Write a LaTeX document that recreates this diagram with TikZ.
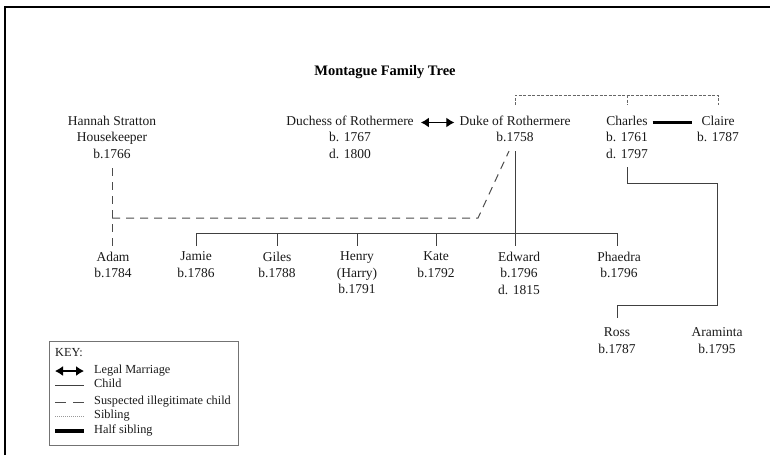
\documentclass[tikz,border=0pt]{standalone}
\usepackage{fontspec}
\setmainfont{Liberation Serif}
\usetikzlibrary{arrows.meta,calc}
\newcommand\mainfs{\fontsize{13.5}{16.5}\selectfont}
\newcommand\keyfs{\fontsize{12.3}{15}\selectfont}
\newcommand\titlefs{\fontsize{14.5}{17}\selectfont\bfseries}
\begin{document}
\begin{tikzpicture}[x=1pt,y=-1pt,
 person/.style={align=center,inner sep=0pt,anchor=north,font=\mainfs,text=black!90},
 child/.style={draw=black!75,line width=0.9pt},
 illeg/.style={draw=black!70,line width=1pt,dash pattern=on 8pt off 6pt},
 sib/.style={draw=black!60,line width=0.7pt,dash pattern=on 3pt off 1.5pt},
 halfsib/.style={draw=black,line width=3.5pt},
 marriage/.style={draw=black,line width=1.3pt,{Latex[length=8pt,width=10pt]}-{Latex[length=8pt,width=10pt]}},
 keytext/.style={anchor=west,inner sep=0pt,font=\keyfs,text=black!90,text height=0.7em,text depth=0.2em}]
\useasboundingbox (0,0) rectangle (770,455);
\draw[line width=1.6pt] (5,455) -- (5,7) -- (770,7);

\node[font=\titlefs,text=black] (title) at (385,72) {Montague Family Tree};

% parents
\node[person] (hannah) at (112,115.5) {Hannah Stratton\\Housekeeper\\b.1766};
\node[person] (duchess) at (350,115.5) {Duchess of Rothermere\\b. 1767\\d. 1800};
\node[person] (duke) at (515,115.5) {Duke of Rothermere\\b.1758};
\node[person] (charles) at (627,115.5) {Charles\\b. 1761\\d. 1797};
\node[person] (claire) at (718,115.5) {Claire\\b. 1787};

% children
\node[person] (adam) at (113,251.5) {Adam\\b.1784};
\node[person] (jamie) at (196,251.5) {Jamie\\b.1786};
\node[person] (giles) at (277,251.5) {Giles\\b.1788};
\node[person] (henry) at (357,251.5) {Henry\\(Harry)\\b.1791};
\node[person] (kate) at (436,251.5) {Kate\\b.1792};
\node[person] (edward) at (519,251.5) {Edward\\b.1796\\d. 1815};
\node[person] (phaedra) at (619,251.5) {Phaedra\\b.1796};
\node[person] (ross) at (617,327.5) {Ross\\b.1787};
\node[person] (araminta) at (717,327.5) {Araminta\\b.1795};

% row coordinates
\coordinate (sibrow) at (0,95);
\coordinate (sibtick) at (0,105);
\coordinate (kidbar) at (0,233);
\coordinate (kidtop) at (0,246);
\coordinate (illegrow) at (0,218);
\coordinate (illegbend) at (478,218);
\coordinate (chbar) at (0,183);
\coordinate (chright) at (0,305);
\coordinate (rosstop) at (0,318);

% marriage and half sibling
\draw[marriage] ([shift={(7pt,-7pt)}]duchess.north east) -- ([shift={(-5pt,-7pt)}]duke.north west);
\draw[halfsib] ([shift={(4.5pt,-7pt)}]charles.north east) -- ([shift={(-4.5pt,-7pt)}]claire.north west);

% siblings
\draw[sib] (duke.north |- sibtick) -- (duke.north |- sibrow) -| (claire.north |- sibtick);
\draw[sib] (charles.north |- sibrow) -- (charles.north |- sibtick);

% children of the duke
\draw[child] ([yshift=-9pt]duke.south) -- (duke.south |- kidtop);
\draw[child] (jamie.north |- kidtop) -- (jamie.north |- kidbar) -- ([xshift=-2pt]phaedra.north |- kidbar) -- ([xshift=-2pt]phaedra.north |- kidtop);
\foreach \n in {giles,henry,kate} \draw[child] (\n.north |- kidbar) -- (\n.north |- kidtop);

% children of Charles
\draw[child] ([yshift=-9pt]charles.south) -- (charles.south |- chbar) -- (araminta.north |- chbar) -- (araminta.north |- chright) -- (ross.north |- chright) -- (ross.north |- rosstop);

% suspected illegitimate child
\draw[illeg] ([yshift=-10pt]hannah.south) -- (hannah.south |- kidtop);
\draw[illeg] (hannah.south |- illegrow) -- (illegbend) -- ([shift={(-6pt,-9pt)}]duke.south);

% key
\node[draw=black!55,line width=1pt,minimum width=189pt,minimum height=104pt,anchor=north west,inner sep=0pt] (keybox) at (49,341) {};
\node[keytext] (keytitle) at (55,354) {KEY:};
\node[keytext] (k1) at (94,371) {Legal Marriage};
\node[keytext] (k2) at (94,385) {Child};
\node[keytext] (k3) at (94,402) {Suspected illegitimate child};
\node[keytext] (k4) at (94,416) {Sibling};
\node[keytext] (k5) at (94,431) {Half sibling};
\draw[marriage] ($(k1.west)+(-39,0)$) -- ($(k1.west)+(-10,0)$);
\draw[child] ($(k2.west)+(-39,0)$) -- ($(k2.west)+(-10,0)$);
\draw[illeg,dash pattern=on 11pt off 7pt] ($(k3.west)+(-39,0)$) -- ($(k3.west)+(-10,0)$);
\draw[sib,draw=black!40,dash pattern=on 1pt off 1pt] ($(k4.west)+(-39,0)$) -- ($(k4.west)+(-10,0)$);
\draw[halfsib] ($(k5.west)+(-39,0)$) -- ($(k5.west)+(-10,0)$);
\end{tikzpicture}
\end{document}
